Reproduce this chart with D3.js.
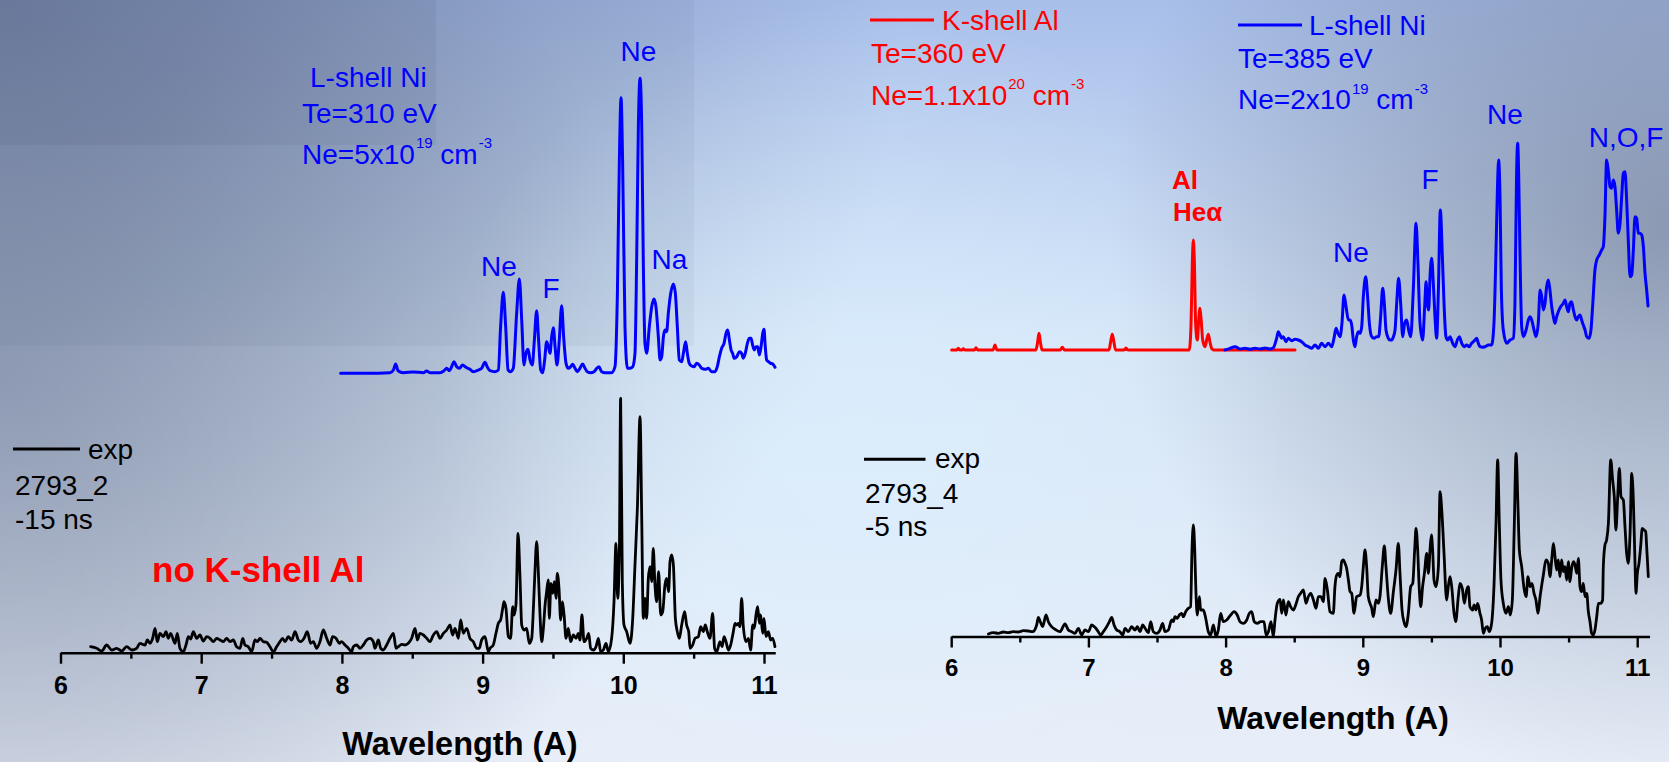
<!DOCTYPE html>
<html><head><meta charset="utf-8">
<script src="https://cdn.jsdelivr.net/npm/d3@7/dist/d3.min.js"></script>
<style>
html,body{margin:0;padding:0;overflow:hidden;background:#c8d8f0}
svg{display:block}
text{font-family:"Liberation Sans",Arial,Helvetica,sans-serif}
</style>
</head><body>
<svg id="chart" width="1669" height="762"></svg>
<script>
// ---------------- DATA (wavelength in Angstrom, intensity in arb. units) ----------------
const majorTicks = [6, 7, 8, 9, 10, 11];
const minorTicks = [6.5, 7.5, 8.5, 9.5, 10.5];

// Left panel: L-shell Ni simulation, Te=310 eV
const simNi310 = [[7.991,0],[8.176,0],[8.342,0.6],[8.366,3.3],[8.382,9.3],[8.399,2.6],[8.437,0.6],[8.508,1.3],[8.579,0.6],[8.602,2.3],[8.626,0.6],[8.697,0.6],[8.726,2.6],[8.745,5],[8.764,2.6],[8.780,6.6],[8.797,11.6],[8.816,6.6],[8.835,5],[8.858,8.3],[8.882,6],[8.910,4],[8.934,1.6],[8.970,3.3],[8.993,5],[9.017,11],[9.034,6],[9.053,2.6],[9.088,1.6],[9.112,3.3],[9.128,46.6],[9.147,81],[9.164,46.6],[9.181,3.3],[9.199,1.6],[9.218,5],[9.242,60],[9.261,94.3],[9.278,53.3],[9.294,8.3],[9.308,20],[9.323,24],[9.337,13.3],[9.353,8.3],[9.368,33.3],[9.384,62.6],[9.398,33.3],[9.413,3.3],[9.427,0.6],[9.441,13.3],[9.455,31.6],[9.467,26.6],[9.479,20],[9.491,36.6],[9.503,45.6],[9.515,26.6],[9.529,8.3],[9.545,33.3],[9.562,67.6],[9.576,36.6],[9.593,10],[9.609,5],[9.626,6.6],[9.640,9],[9.657,5],[9.673,1.6],[9.692,5],[9.711,9.3],[9.728,5],[9.744,1.6],[9.768,0.6],[9.792,1.6],[9.811,5],[9.827,6.6],[9.846,1.6],[9.870,0.6],[9.917,0.6],[9.941,6.6],[9.958,80],[9.972,213.3],[9.984,275.6],[9.995,213.3],[10.012,46.6],[10.029,5],[10.048,5],[10.067,6.6],[10.083,20],[10.095,113.3],[10.107,246.6],[10.119,295],[10.131,246.6],[10.142,113.3],[10.154,30],[10.166,20],[10.185,46.6],[10.202,66.6],[10.218,74.3],[10.232,66.6],[10.249,36.6],[10.261,13.3],[10.273,16.6],[10.285,36.6],[10.296,43.3],[10.308,41.6],[10.320,60],[10.337,80],[10.356,89.3],[10.370,80],[10.384,46.6],[10.398,13.3],[10.415,11.6],[10.427,20],[10.443,31.6],[10.455,20],[10.469,10],[10.486,7.3],[10.503,6.6],[10.521,10],[10.540,8.3],[10.557,5],[10.581,4],[10.604,5],[10.628,1.6],[10.652,1.6],[10.668,6.6],[10.683,16.6],[10.699,25],[10.716,30],[10.730,40],[10.742,43.3],[10.754,33.3],[10.766,23.3],[10.777,20],[10.789,15],[10.806,16.6],[10.825,21.6],[10.841,20],[10.853,15],[10.867,20],[10.882,30],[10.896,35],[10.908,35],[10.919,28.3],[10.931,23.3],[10.943,26.6],[10.955,26.6],[10.967,18.3],[10.979,26.6],[10.991,40],[11.000,44],[11.009,26.6],[11.019,13.3],[11.031,11.6],[11.047,10],[11.062,9.3],[11.078,6]];

// Left panel: experiment 2793_2, -15 ns
const exp2793_2 = [[6.214,6],[6.257,4.4],[6.293,1.7],[6.328,7.7],[6.364,2.7],[6.399,4.4],[6.435,1.7],[6.470,6],[6.506,2.7],[6.541,4.4],[6.565,9.4],[6.601,7.7],[6.617,12.7],[6.636,9.4],[6.655,14.4],[6.672,24.4],[6.688,11],[6.707,19.4],[6.731,16],[6.750,21],[6.766,14.4],[6.783,19.4],[6.814,9.4],[6.830,19.4],[6.849,4.4],[6.873,1],[6.892,7.7],[6.909,16],[6.925,13.7],[6.944,21],[6.968,14.4],[6.991,17.7],[7.015,11.7],[7.039,16],[7.063,14.4],[7.086,11],[7.110,14.4],[7.134,12.7],[7.157,11],[7.181,14.4],[7.205,11],[7.228,12.7],[7.252,6],[7.276,4.4],[7.295,14.4],[7.311,7.7],[7.335,6],[7.359,1],[7.382,12.7],[7.399,11],[7.418,14.4],[7.442,11],[7.465,10.4],[7.489,6],[7.513,1],[7.536,6],[7.560,11],[7.579,14.4],[7.596,11],[7.619,16],[7.643,12.7],[7.667,21],[7.690,12.7],[7.707,11],[7.731,14.4],[7.754,21],[7.778,9.4],[7.797,11],[7.821,4.4],[7.844,11],[7.868,22.7],[7.892,14.4],[7.915,7.7],[7.934,16],[7.958,14.4],[7.982,9.4],[7.998,11],[8.022,7.7],[8.046,4.4],[8.069,1],[8.081,6],[8.105,7.7],[8.129,4.4],[8.152,7.7],[8.176,12.7],[8.200,14.4],[8.223,11],[8.235,4.4],[8.259,12.7],[8.276,4.4],[8.294,2.7],[8.318,7.7],[8.342,14.4],[8.366,19.4],[8.385,4.4],[8.401,6],[8.425,8.4],[8.448,7.7],[8.472,9.4],[8.496,14.4],[8.520,24.4],[8.536,12.7],[8.555,19.4],[8.579,17.7],[8.603,14.4],[8.626,11],[8.650,17.7],[8.674,21],[8.697,14.4],[8.721,19.4],[8.745,22.7],[8.768,27.7],[8.787,17.7],[8.804,24.4],[8.828,14.4],[8.844,32.7],[8.863,19.4],[8.887,24.4],[8.910,14.4],[8.934,11],[8.958,4.4],[8.977,4.4],[8.993,12.7],[9.017,16],[9.041,1],[9.053,4.4],[9.076,7.7],[9.095,19.4],[9.112,29.4],[9.128,32.7],[9.143,44.4],[9.152,51],[9.166,44.4],[9.183,16],[9.199,14.4],[9.214,46],[9.223,37.7],[9.237,47.7],[9.252,119.4],[9.266,74.4],[9.278,27.7],[9.294,22.7],[9.313,24.4],[9.332,9.4],[9.349,14.4],[9.361,44.4],[9.372,81],[9.384,111],[9.396,81],[9.408,37.7],[9.420,11],[9.432,24.4],[9.444,47.7],[9.455,61],[9.467,72.7],[9.474,34.4],[9.486,69.4],[9.498,59.4],[9.510,71],[9.522,54.4],[9.531,79.4],[9.543,64.4],[9.555,32.7],[9.567,51],[9.579,37.7],[9.593,14.4],[9.609,24.4],[9.626,11],[9.645,17.7],[9.664,14.4],[9.680,19.4],[9.692,12.7],[9.706,37.7],[9.721,11],[9.740,14.4],[9.754,19.4],[9.768,4.4],[9.787,2.7],[9.806,6],[9.823,14.4],[9.839,1],[9.858,2.7],[9.877,9.4],[9.894,1],[9.917,14.4],[9.934,51],[9.948,109.4],[9.960,54.4],[9.972,101],[9.981,254.4],[9.993,71],[10.005,27.7],[10.024,21],[10.048,9.4],[10.067,34.4],[10.083,87.7],[10.100,144.4],[10.119,236],[10.131,134.4],[10.142,34.4],[10.154,54.4],[10.166,34.4],[10.178,74.4],[10.190,86],[10.202,71],[10.213,104.4],[10.225,67.7],[10.237,51],[10.251,81],[10.266,37.7],[10.280,41],[10.296,67.7],[10.308,74.4],[10.322,61],[10.332,91],[10.344,97.7],[10.356,87.7],[10.370,34.4],[10.384,21],[10.398,14.4],[10.415,27.7],[10.436,41],[10.450,27.7],[10.465,21],[10.474,4.4],[10.493,7.7],[10.510,14.4],[10.533,16],[10.550,26],[10.569,21],[10.583,27.7],[10.597,21],[10.616,14.4],[10.635,39.4],[10.649,4.4],[10.664,1],[10.687,11],[10.702,6],[10.716,16],[10.730,11],[10.747,2.7],[10.763,7.7],[10.782,21],[10.794,29.4],[10.806,27.7],[10.818,29.4],[10.829,26],[10.841,54.4],[10.853,26],[10.872,11],[10.889,14.4],[10.905,2.7],[10.920,27.7],[10.931,24.4],[10.943,37.7],[10.955,46],[10.967,29.4],[10.976,37.7],[10.991,19.4],[11.000,34.4],[11.014,16],[11.031,21],[11.047,12.7],[11.062,14.4],[11.078,6]];

// Right panel: K-shell Al simulation, Te=360 eV
const simAl360 = [[6.003,0],[6.040,0],[6.052,1.7],[6.064,0],[6.078,0],[6.088,1.3],[6.100,0],[6.170,0],[6.181,2.3],[6.193,0],[6.305,0],[6.319,5],[6.333,0],[6.618,0],[6.630,8],[6.640,16.7],[6.650,8],[6.662,0],[6.795,0],[6.810,2.7],[6.825,0],[7.150,0],[7.162,8],[7.174,15.7],[7.186,8],[7.198,0],[7.260,0],[7.274,2],[7.288,0],[7.735,0],[7.748,25],[7.758,90],[7.765,110],[7.772,90],[7.782,25],[7.794,10],[7.804,30],[7.813,41.7],[7.822,30],[7.833,10],[7.850,3.3],[7.862,10],[7.874,15.7],[7.886,8],[7.898,1.7],[7.915,0],[8.506,0]];

// Right panel: L-shell Ni simulation, Te=385 eV
const simNi385 = [[7.996,0],[8.032,1.7],[8.069,3.3],[8.105,1],[8.141,1.7],[8.178,0.7],[8.214,1.7],[8.251,1],[8.287,2],[8.324,1],[8.348,2.3],[8.372,11.7],[8.384,18.3],[8.397,15],[8.409,11.7],[8.421,13.3],[8.440,8.3],[8.457,11.7],[8.482,9.3],[8.506,10.7],[8.530,10],[8.554,8.3],[8.579,5],[8.603,3.3],[8.627,1.7],[8.652,5],[8.676,1.7],[8.700,6.7],[8.725,3.3],[8.749,6.7],[8.773,3.3],[8.790,11.7],[8.805,21.7],[8.819,16.7],[8.834,13.3],[8.848,26.7],[8.863,55],[8.878,43.3],[8.895,30],[8.907,30],[8.919,25],[8.931,10],[8.943,3.3],[8.955,13.3],[8.967,18.3],[8.980,16.7],[8.992,23.3],[9.004,53.3],[9.021,73.3],[9.035,53.3],[9.048,26.7],[9.065,13.3],[9.082,11.7],[9.101,13.3],[9.116,13.3],[9.130,33.3],[9.145,61.7],[9.157,46.7],[9.169,20],[9.186,11.7],[9.198,10],[9.210,10],[9.223,13.3],[9.235,20],[9.247,46.7],[9.261,71.7],[9.276,46.7],[9.291,13.3],[9.305,26.7],[9.320,30],[9.334,20],[9.349,13.3],[9.368,60],[9.388,126.7],[9.402,86.7],[9.417,26.7],[9.436,10],[9.451,43.3],[9.461,68.3],[9.470,46.7],[9.480,40],[9.490,73.3],[9.502,91.7],[9.514,66.7],[9.526,33.3],[9.538,11.7],[9.551,60],[9.565,140],[9.580,93.3],[9.592,46.7],[9.606,13.3],[9.619,10],[9.636,13.3],[9.655,6.7],[9.672,3.3],[9.689,10],[9.704,13.3],[9.721,6.7],[9.738,3.3],[9.757,5],[9.776,3.3],[9.793,6.7],[9.806,8.3],[9.818,10],[9.830,11.7],[9.842,6.7],[9.854,3.3],[9.874,2.7],[9.891,3.3],[9.915,5],[9.939,5],[9.956,26.7],[9.971,100],[9.981,160],[9.990,190],[10.000,153.3],[10.010,60],[10.024,20],[10.049,6.7],[10.073,10],[10.097,11.7],[10.109,46.7],[10.121,176.7],[10.129,206.7],[10.136,176.7],[10.146,93.3],[10.158,23.3],[10.170,13.3],[10.190,20],[10.207,30],[10.219,33.3],[10.231,30],[10.248,20],[10.262,13.3],[10.279,26.7],[10.292,60],[10.304,53.3],[10.316,40],[10.328,46.7],[10.340,63.3],[10.352,70],[10.364,60],[10.377,43.3],[10.389,33.3],[10.401,26.7],[10.413,33.3],[10.425,38.3],[10.442,43.3],[10.462,46.7],[10.474,50],[10.486,43.3],[10.498,38.3],[10.510,46.7],[10.522,48.3],[10.535,40],[10.547,33.3],[10.559,30],[10.571,33.3],[10.583,35],[10.595,30],[10.607,25],[10.620,20],[10.632,13.3],[10.649,11.7],[10.663,20],[10.675,43.3],[10.692,80],[10.705,90],[10.724,95],[10.741,100],[10.753,103.3],[10.765,133.3],[10.777,190],[10.790,178.3],[10.802,163.3],[10.814,161.7],[10.826,170],[10.838,163.3],[10.850,140],[10.862,116.7],[10.875,126.7],[10.887,153.3],[10.899,176.7],[10.911,178.3],[10.923,150],[10.935,110],[10.948,73.3],[10.960,75],[10.972,100],[10.984,133.3],[10.996,131.7],[11.008,116.7],[11.020,116.7],[11.033,115],[11.045,103.3],[11.057,76.7],[11.069,60],[11.079,44]];

// Right panel: experiment 2793_4, -5 ns
const exp2793_4 = [[6.271,2.5],[6.307,3.8],[6.344,3.2],[6.380,4.5],[6.416,3.8],[6.453,4.8],[6.489,4.5],[6.526,5.8],[6.562,5.5],[6.594,4.8],[6.623,11.5],[6.635,19.2],[6.652,13.8],[6.667,9.8],[6.691,21.5],[6.708,14.8],[6.732,9.8],[6.757,7.2],[6.793,4.8],[6.829,12.5],[6.854,6.5],[6.878,4.8],[6.902,3.2],[6.927,8.2],[6.951,1.5],[6.975,6.5],[7.000,4.8],[7.024,11.5],[7.048,9.2],[7.072,4.8],[7.089,1.5],[7.109,4.8],[7.133,9.8],[7.153,14.8],[7.170,19.2],[7.187,11.5],[7.206,6.5],[7.230,4.8],[7.250,1.5],[7.267,8.2],[7.291,4.8],[7.315,9.8],[7.340,6.5],[7.357,9.8],[7.376,4.8],[7.396,11.5],[7.413,8.2],[7.437,3.8],[7.454,14.8],[7.473,4.8],[7.498,3.2],[7.522,6.5],[7.541,13.2],[7.558,4.8],[7.583,6.5],[7.607,16.5],[7.619,14.8],[7.631,19.8],[7.648,18.2],[7.663,21.5],[7.680,23.2],[7.692,19.8],[7.709,24.8],[7.728,28.2],[7.745,29.8],[7.755,86.5],[7.765,111.5],[7.775,86.5],[7.784,43.2],[7.794,21.5],[7.809,39.8],[7.818,26.5],[7.838,26.5],[7.855,18.2],[7.874,4.8],[7.891,1.5],[7.911,11.5],[7.930,0],[7.947,6.5],[7.964,23.2],[7.983,14.8],[8.008,16.5],[8.037,21.5],[8.061,24.8],[8.085,21.5],[8.105,14.8],[8.129,13.2],[8.154,16.5],[8.173,23.2],[8.190,24.8],[8.209,14.8],[8.231,13.2],[8.256,14.8],[8.280,14.8],[8.295,1.5],[8.312,4.8],[8.331,14.8],[8.348,0],[8.360,16.5],[8.377,33.2],[8.397,37.2],[8.409,23.2],[8.421,36.5],[8.440,21.5],[8.457,34.8],[8.474,29.8],[8.494,26.5],[8.511,31.5],[8.530,39.8],[8.547,43.2],[8.567,46.5],[8.586,33.2],[8.603,39.8],[8.620,43.2],[8.640,36.5],[8.659,28.2],[8.676,39.8],[8.695,39.8],[8.712,34.8],[8.725,58.2],[8.742,46.5],[8.761,24.8],[8.785,23.2],[8.797,49.8],[8.810,61.5],[8.822,63.2],[8.834,59.8],[8.846,74.8],[8.858,76.5],[8.870,73.2],[8.882,68.2],[8.895,56.5],[8.907,44.8],[8.919,43.2],[8.936,23.2],[8.955,39.8],[8.980,41.5],[8.992,49.8],[9.004,69.8],[9.016,86.5],[9.028,69.8],[9.040,39.8],[9.065,28.2],[9.077,19.8],[9.096,36.5],[9.113,33.2],[9.125,39.8],[9.142,69.8],[9.157,90.5],[9.169,69.8],[9.186,38.2],[9.203,23.2],[9.223,44.8],[9.242,66.5],[9.259,93.2],[9.271,63.2],[9.286,26.5],[9.300,14.8],[9.315,9.8],[9.332,23.2],[9.349,49.8],[9.364,53.2],[9.378,86.5],[9.388,108.2],[9.400,86.5],[9.412,46.5],[9.422,29.8],[9.436,49.8],[9.449,63.2],[9.466,83.2],[9.478,63.2],[9.490,86.5],[9.500,101.5],[9.509,86.5],[9.519,56.5],[9.534,49.8],[9.551,69.8],[9.563,144.8],[9.577,123.2],[9.592,83.2],[9.611,36.5],[9.623,49.8],[9.636,59.8],[9.648,49.8],[9.665,23.2],[9.677,14.8],[9.696,39.8],[9.708,53.2],[9.725,48.2],[9.740,33.2],[9.757,46.5],[9.769,49.8],[9.781,29.8],[9.801,26.5],[9.811,31.5],[9.825,26.5],[9.837,33.2],[9.854,23.2],[9.866,16.5],[9.879,3.2],[9.893,8.2],[9.908,9.8],[9.922,4.8],[9.939,13.2],[9.956,49.8],[9.971,113.2],[9.983,176.5],[9.995,113.2],[10.007,56.5],[10.024,33.2],[10.044,23.2],[10.061,29.8],[10.075,21.5],[10.090,36.5],[10.104,109.8],[10.117,183.2],[10.131,129.8],[10.141,86.5],[10.158,69.8],[10.175,48.2],[10.190,39.8],[10.204,59.8],[10.219,49.8],[10.233,53.2],[10.248,43.2],[10.262,36.5],[10.277,23.2],[10.292,39.8],[10.316,61.5],[10.335,76.5],[10.352,73.2],[10.364,59.8],[10.377,76.5],[10.389,93.2],[10.401,79.8],[10.413,66.5],[10.425,76.5],[10.437,59.8],[10.449,76.5],[10.462,64.8],[10.474,69.8],[10.486,56.5],[10.498,74.8],[10.510,54.8],[10.522,68.2],[10.535,74.8],[10.547,71.5],[10.559,63.2],[10.571,78.2],[10.583,49.8],[10.595,44.8],[10.607,53.2],[10.620,39.8],[10.632,43.2],[10.644,24.8],[10.656,14.8],[10.668,3.2],[10.680,1.5],[10.692,6.5],[10.705,19.8],[10.717,33.2],[10.734,33.2],[10.748,36.5],[10.753,69.8],[10.765,91.5],[10.777,96.5],[10.790,113.2],[10.807,176.5],[10.821,156.5],[10.833,139.8],[10.845,106.5],[10.858,139.8],[10.870,168.2],[10.882,139.8],[10.899,136.5],[10.911,109.8],[10.923,83.2],[10.935,73.2],[10.948,103.2],[10.960,163.2],[10.972,136.5],[10.984,73.2],[10.991,43.2],[11.001,63.2],[11.013,73.2],[11.025,89.8],[11.037,108.2],[11.050,106.5],[11.062,104.8],[11.069,89.8],[11.081,59.8]];

// ---------------- DRAWING ----------------
const W = 1669, H = 762;
const BLUE = "#0000ff", RED = "#ff0000", BLACK = "#000000";
const svg = d3.select("#chart");
const defs = svg.append("defs");

function lin(id, stops, x2, y2) {
  const g = defs.append("linearGradient").attr("id", id).attr("x1", 0).attr("y1", 0).attr("x2", x2).attr("y2", y2);
  stops.forEach(s => g.append("stop").attr("offset", s[0]).attr("stop-color", s[1]).attr("stop-opacity", s[2] == null ? 1 : s[2]));
}
function rad(id, cx, cy, r, color, op) {
  const g = defs.append("radialGradient").attr("id", id).attr("gradientUnits", "userSpaceOnUse")
    .attr("cx", cx).attr("cy", cy).attr("r", r);
  g.append("stop").attr("offset", 0).attr("stop-color", color).attr("stop-opacity", op);
  g.append("stop").attr("offset", 1).attr("stop-color", color).attr("stop-opacity", 0);
}
lin("bgBase", [[0, "#a8bfea"], [0.45, "#d6e6f8"], [1, "#e8eef8"]], 0, 1);
rad("bgTL", 0, 0, 900, "#46506e", 0.5);
rad("bgL", 0, 380, 650, "#5a6482", 0.38);
rad("bgTR", W, 230, 560, "#646e87", 0.6);
rad("bgHL", 860, 430, 430, "#dcf2ff", 0.5);

const bg = svg.append("g");
bg.append("rect").attr("width", W).attr("height", H).attr("fill", "url(#bgBase)");
bg.append("rect").attr("width", W).attr("height", H).attr("fill", "url(#bgTL)");
bg.append("rect").attr("width", W).attr("height", H).attr("fill", "url(#bgL)");
bg.append("rect").attr("width", W).attr("height", H).attr("fill", "url(#bgTR)");
bg.append("rect").attr("width", W).attr("height", H).attr("fill", "url(#bgHL)");
bg.append("rect").attr("width", 694).attr("height", 346).attr("fill", "#1e2846").attr("opacity", 0.045);
bg.append("rect").attr("width", 436).attr("height", 145).attr("fill", "#1e2846").attr("opacity", 0.06);

// Scales
const xL = d3.scaleLinear().domain([6, 11.08]).range([60.5, 60.5 + 5.08 * 140.7]);
const xR = d3.scaleLinear().domain([6, 11.09]).range([951.2, 951.2 + 5.09 * 137.2]);
const yLsim = d3.scaleLinear().domain([0, 300]).range([373.3, 73.3]);
const yLexp = d3.scaleLinear().domain([0, 300]).range([652.7, 352.7]);
const yRsim = d3.scaleLinear().domain([0, 300]).range([350, 50]);
const yRexp = d3.scaleLinear().domain([0, 300]).range([636.5, 336.5]);

function trace(data, x, y, color, width) {
  const line = d3.line().x(d => x(d[0])).y(d => y(d[1])).curve(d3.curveMonotoneX);
  svg.append("path").datum(data).attr("d", line).attr("fill", "none")
    .attr("stroke", color).attr("stroke-width", width)
    .attr("stroke-linejoin", "round").attr("stroke-linecap", "round");
}

function axis(x, y0, labelBaseline, fs) {
  const gMinor = svg.append("g").attr("transform", `translate(0,${y0})`)
    .call(d3.axisBottom(x).tickValues(minorTicks).tickSize(6).tickSizeOuter(0).tickFormat(() => ""));
  gMinor.select(".domain").remove();
  gMinor.selectAll(".tick line").attr("stroke", BLACK).attr("stroke-width", 2.4);
  const g = svg.append("g").attr("transform", `translate(0,${y0})`)
    .call(d3.axisBottom(x).tickValues(majorTicks).tickSize(11).tickSizeOuter(0).tickFormat(d3.format("d")));
  g.select(".domain").attr("stroke", BLACK).attr("stroke-width", 2.6);
  g.selectAll(".tick line").attr("stroke", BLACK).attr("stroke-width", 2.4);
  g.selectAll(".tick text").attr("y", labelBaseline - y0).attr("dy", 0)
    .attr("font-size", fs).attr("font-weight", "bold").attr("fill", BLACK)
    .attr("font-family", "'Liberation Sans', Arial, sans-serif");
}

axis(xL, 652.7, 694, 25);
axis(xR, 636.5, 676, 24);

// traces
trace(exp2793_2, xL, yLexp, BLACK, 2.8);
trace(simNi310, xL, yLsim, BLUE, 3);
trace(exp2793_4, xR, yRexp, BLACK, 2.8);
trace(simAl360, xR, yRsim, RED, 3);
trace(simNi385, xR, yRsim, BLUE, 3);

// text helpers
function txt(x, y, s, o = {}) {
  return svg.append("text").attr("x", x).attr("y", y).text(s)
    .attr("font-size", o.fs || 28).attr("fill", o.c || BLACK)
    .attr("font-weight", o.b ? "bold" : "normal")
    .attr("text-anchor", o.a || "start");
}
function density(x, y, mant, exp, color, dx1) {
  const t = svg.append("text").attr("x", x).attr("y", y).attr("fill", color).attr("font-size", 28);
  t.append("tspan").text(mant);
  t.append("tspan").attr("dx", dx1).attr("dy", -15.7).attr("font-size", 15).text(exp);
  t.append("tspan").attr("dy", 15.7).attr("font-size", 28).text(" cm");
  t.append("tspan").attr("dx", 1).attr("dy", -15.7).attr("font-size", 15).text("-3");
}
function legendLine(x1, x2, y, color) {
  svg.append("line").attr("x1", x1).attr("x2", x2).attr("y1", y).attr("y2", y)
    .attr("stroke", color).attr("stroke-width", 3);
}

// Left panel annotations
txt(310, 87, "L-shell Ni", { c: BLUE });
txt(302, 123, "Te=310 eV", { c: BLUE });
density(302, 164, "Ne=5x10", "19", BLUE, 1);
txt(638.5, 61, "Ne", { c: BLUE, a: "middle" });
txt(499, 276, "Ne", { c: BLUE, a: "middle" });
txt(551, 297.7, "F", { c: BLUE, a: "middle" });
txt(669.5, 269.3, "Na", { c: BLUE, a: "middle" });

legendLine(13, 80, 449, BLACK);
txt(88, 459.3, "exp");
txt(15, 495, "2793_2");
txt(15, 529, "-15 ns");
txt(152, 581.5, "no K-shell Al", { c: RED, b: true, fs: 35 });
txt(460, 755, "Wavelength (A)", { b: true, fs: 32.5, a: "middle" });

// Right panel annotations
legendLine(870, 934, 20, RED);
txt(942, 30, "K-shell Al", { c: RED });
txt(871, 63.3, "Te=360 eV", { c: RED });
density(871, 105, "Ne=1.1x10", "20", RED, 1);

legendLine(1238, 1302, 25, BLUE);
txt(1309, 35, "L-shell Ni", { c: BLUE });
txt(1238, 68.3, "Te=385 eV", { c: BLUE });
density(1238, 109.3, "Ne=2x10", "19", BLUE, 1);

txt(1505, 124.3, "Ne", { c: BLUE, a: "middle" });
txt(1626, 146.7, "N,O,F", { c: BLUE, a: "middle" });
txt(1430, 189.3, "F", { c: BLUE, a: "middle" });
txt(1351, 262.3, "Ne", { c: BLUE, a: "middle" });
txt(1172, 188.5, "Al", { c: RED, b: true, fs: 26 });
txt(1173, 221, "Heα", { c: RED, b: true, fs: 26 });

legendLine(864, 925.5, 459.3, BLACK);
txt(935, 468.3, "exp");
txt(865, 502.7, "2793_4");
txt(865, 536, "-5 ns");
txt(1333, 729.3, "Wavelength (A)", { b: true, fs: 32, a: "middle" });
</script>
</body></html>
